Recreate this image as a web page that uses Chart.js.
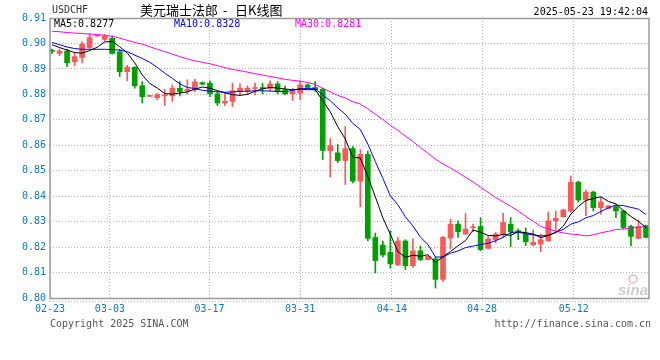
<!DOCTYPE html>
<html>
<head>
<meta charset="utf-8">
<script src="https://cdn.jsdelivr.net/npm/chart.js@4.4.0/dist/chart.umd.min.js"></script>
<style>
  html, body { margin: 0; padding: 0; background: #fff; }
  #wrap { width: 660px; height: 360px; }
</style>
</head>
<body>
<div id="wrap"><canvas id="kChart" width="660" height="360"></canvas></div>
<script>
// USDCHF daily candles, 80 sessions
const opens = [0.8971, 0.8961, 0.8970, 0.8928, 0.8945, 0.8984, 0.9029, 0.9016, 0.9020, 0.8967,
  0.8889, 0.8906, 0.8834, 0.8792, 0.8787, 0.8794, 0.8794, 0.8824, 0.8814, 0.8818,
  0.8846, 0.8844, 0.8802, 0.8766, 0.8772, 0.8811, 0.8814, 0.8823, 0.8825, 0.8824,
  0.8841, 0.8818, 0.8802, 0.8805, 0.8837, 0.8827, 0.8820, 0.8579, 0.8570, 0.8540,
  0.8587, 0.8459, 0.8564, 0.8238, 0.8208, 0.8180, 0.8130, 0.8224, 0.8127, 0.8185,
  0.8151, 0.8154, 0.8073, 0.8236, 0.8290, 0.8251, 0.8276, 0.8281, 0.8195, 0.8229,
  0.8248, 0.8290, 0.8264, 0.8251, 0.8209, 0.8212, 0.8225, 0.8303, 0.8319, 0.8342,
  0.8455, 0.8385, 0.8416, 0.8355, 0.8352, 0.8359, 0.8342, 0.8281, 0.8234, 0.8284];
const highs = [0.8978, 0.8978, 0.8977, 0.8965, 0.9006, 0.9039, 0.9032, 0.9036, 0.9029, 0.8977,
  0.8914, 0.8909, 0.8850, 0.8795, 0.8805, 0.8820, 0.8837, 0.8850, 0.8857, 0.8859,
  0.8849, 0.8853, 0.8811, 0.8807, 0.8844, 0.8841, 0.8834, 0.8844, 0.8844, 0.8853,
  0.8850, 0.8833, 0.8824, 0.8853, 0.8841, 0.8850, 0.8824, 0.8626, 0.8603, 0.8674,
  0.8595, 0.8583, 0.8577, 0.8255, 0.8224, 0.8264, 0.8238, 0.8229, 0.8232, 0.8205,
  0.8166, 0.8161, 0.8242, 0.8310, 0.8303, 0.8332, 0.8290, 0.8316, 0.8242, 0.8258,
  0.8333, 0.8316, 0.8271, 0.8275, 0.8267, 0.8251, 0.8338, 0.8342, 0.8349, 0.8479,
  0.8459, 0.8424, 0.8420, 0.8395, 0.8363, 0.8366, 0.8345, 0.8286, 0.8307, 0.8286];
const lows = [0.8961, 0.8952, 0.8909, 0.8912, 0.8924, 0.8980, 0.9028, 0.9010, 0.8958, 0.8870,
  0.8853, 0.8824, 0.8766, 0.8791, 0.8779, 0.8756, 0.8772, 0.8794, 0.8802, 0.8811,
  0.8837, 0.8791, 0.8756, 0.8756, 0.8752, 0.8798, 0.8802, 0.8798, 0.8802, 0.8815,
  0.8802, 0.8798, 0.8776, 0.8779, 0.8822, 0.8811, 0.8544, 0.8475, 0.8532, 0.8446,
  0.8452, 0.8358, 0.8225, 0.8098, 0.8161, 0.8117, 0.8127, 0.8112, 0.8120, 0.8147,
  0.8149, 0.8039, 0.8065, 0.8193, 0.8238, 0.8251, 0.8260, 0.8186, 0.8193, 0.8216,
  0.8238, 0.8202, 0.8229, 0.8205, 0.8205, 0.8182, 0.8222, 0.8264, 0.8318, 0.8336,
  0.8377, 0.8323, 0.8342, 0.8329, 0.8350, 0.8316, 0.8271, 0.8205, 0.8232, 0.8236];
const closes = [0.8969, 0.8970, 0.8924, 0.8948, 0.8997, 0.9023, 0.9031, 0.9030, 0.8961, 0.8889,
  0.8906, 0.8834, 0.8791, 0.8794, 0.8799, 0.8798, 0.8824, 0.8811, 0.8820, 0.8849,
  0.8840, 0.8802, 0.8766, 0.8773, 0.8814, 0.8824, 0.8824, 0.8825, 0.8823, 0.8841,
  0.8814, 0.8802, 0.8811, 0.8837, 0.8827, 0.8818, 0.8580, 0.8599, 0.8540, 0.8587,
  0.8459, 0.8564, 0.8234, 0.8147, 0.8169, 0.8134, 0.8224, 0.8127, 0.8185, 0.8151,
  0.8164, 0.8073, 0.8238, 0.8290, 0.8260, 0.8271, 0.8278, 0.8190, 0.8232, 0.8251,
  0.8297, 0.8260, 0.8258, 0.8221, 0.8219, 0.8229, 0.8303, 0.8313, 0.8346, 0.8455,
  0.8385, 0.8416, 0.8355, 0.8377, 0.8362, 0.8342, 0.8277, 0.8242, 0.8281, 0.8238];

// moving average lines as drawn
const ma5 = [0.8995, 0.8984, 0.8974, 0.8964, 0.8962, 0.8972, 0.8985, 0.9006, 0.9008, 0.8987,
  0.8963, 0.8924, 0.8876, 0.8843, 0.8825, 0.8803, 0.8801, 0.8805, 0.8810, 0.8820,
  0.8829, 0.8824, 0.8815, 0.8806, 0.8799, 0.8796, 0.8800, 0.8812, 0.8822, 0.8827,
  0.8825, 0.8821, 0.8818, 0.8821, 0.8818, 0.8819, 0.8775, 0.8732, 0.8673, 0.8625,
  0.8553, 0.8550, 0.8477, 0.8398, 0.8315, 0.8250, 0.8182, 0.8160, 0.8168, 0.8164,
  0.8170, 0.8140, 0.8162, 0.8183, 0.8205, 0.8226, 0.8267, 0.8258, 0.8246, 0.8244,
  0.8250, 0.8246, 0.8260, 0.8257, 0.8251, 0.8237, 0.8246, 0.8257, 0.8282, 0.8329,
  0.8360, 0.8383, 0.8391, 0.8398, 0.8379, 0.8370, 0.8343, 0.8320, 0.8301, 0.8277];
const ma10 = [0.9004, 0.8995, 0.8986, 0.8980, 0.8977, 0.8977, 0.8977, 0.8977, 0.8976, 0.8974,
  0.8968, 0.8954, 0.8941, 0.8926, 0.8906, 0.8883, 0.8863, 0.8841, 0.8827, 0.8823,
  0.8816, 0.8813, 0.8810, 0.8808, 0.8810, 0.8812, 0.8812, 0.8814, 0.8814, 0.8813,
  0.8811, 0.8811, 0.8815, 0.8822, 0.8823, 0.8822, 0.8798, 0.8775, 0.8747, 0.8722,
  0.8686, 0.8662, 0.8605, 0.8536, 0.8470, 0.8401, 0.8366, 0.8319, 0.8283, 0.8239,
  0.8210, 0.8161, 0.8161, 0.8176, 0.8185, 0.8198, 0.8204, 0.8210, 0.8215, 0.8225,
  0.8238, 0.8257, 0.8259, 0.8252, 0.8248, 0.8244, 0.8246, 0.8258, 0.8270, 0.8290,
  0.8299, 0.8315, 0.8324, 0.8340, 0.8354, 0.8365, 0.8363, 0.8356, 0.8349, 0.8328];
const ma30 = [0.9048, 0.9046, 0.9043, 0.9041, 0.9039, 0.9037, 0.9035, 0.9032, 0.9028, 0.9021,
  0.9012, 0.9004, 0.8997, 0.8987, 0.8977, 0.8968, 0.8958, 0.8948, 0.8939, 0.8932,
  0.8926, 0.8920, 0.8913, 0.8905, 0.8898, 0.8893, 0.8887, 0.8881, 0.8876, 0.8870,
  0.8865, 0.8859, 0.8855, 0.8852, 0.8846, 0.8839, 0.8824, 0.8810, 0.8796, 0.8786,
  0.8771, 0.8762, 0.8743, 0.8722, 0.8701, 0.8678, 0.8659, 0.8636, 0.8615, 0.8591,
  0.8569, 0.8545, 0.8527, 0.8511, 0.8493, 0.8474, 0.8456, 0.8435, 0.8415, 0.8395,
  0.8378, 0.8360, 0.8342, 0.8321, 0.8301, 0.8281, 0.8272, 0.8262, 0.8256, 0.8251,
  0.8249, 0.8244, 0.8248, 0.8256, 0.8262, 0.8269, 0.8271, 0.8275, 0.8278, 0.8281];

const yTicks = [0.80, 0.81, 0.82, 0.83, 0.84, 0.85, 0.86, 0.87, 0.88, 0.89, 0.90, 0.91];
const xTickLabels = ['02-23', '03-03', '03-17', '03-31', '04-14', '04-28', '05-12'];
const xTickPos = [-0.27, 7.7, 20.95, 33, 45.2, 57.2, 69.4];

const UP = '#f65a5a';
const DOWN = '#00a000';
const AXIS_BLUE = '#0a78c8';
const MONO = '"DejaVu Sans Mono", "Liberation Mono", monospace';

const candleColors = closes.map((c, i) => c >= opens[i] ? UP : DOWN);

// frame, dotted under-rule, header texts and footer
const overlay = {
    id: 'overlay',
    afterDraw(chart) {
        const ctx = chart.ctx;
        const a = chart.chartArea;
        ctx.save();

        ctx.strokeStyle = '#9a9a9a';
        ctx.lineWidth = 1.5;
        ctx.strokeRect(a.left, a.top + 0.5, a.right - a.left, a.bottom - a.top);

        ctx.strokeStyle = '#b0b0b0';
        ctx.lineWidth = 1;
        ctx.setLineDash([1, 2]);
        ctx.beginPath();
        ctx.moveTo(a.left, a.bottom + 3.5);
        ctx.lineTo(a.right + 1, a.bottom + 3.5);
        ctx.stroke();
        ctx.setLineDash([]);

        ctx.textBaseline = 'middle';
        ctx.font = '10px ' + MONO;
        ctx.fillStyle = '#333';
        ctx.textAlign = 'left';
        ctx.fillText('USDCHF', 52, 10);

        ctx.font = '13px "Noto Sans CJK SC"';
        ctx.fillStyle = '#000';
        ctx.fillText('美元瑞士法郎', 140, 10);
        ctx.fillText('-', 223, 10);
        ctx.fillText('日K线图', 235, 10);

        ctx.font = '10px ' + MONO;
        ctx.textAlign = 'right';
        ctx.fillText('2025-05-23 19:42:04', 648, 12);

        ctx.textAlign = 'left';
        ctx.fillStyle = '#000';
        ctx.fillText('MA5:' + ma5[ma5.length - 1].toFixed(4), 54, 24);
        ctx.fillStyle = '#0000ff';
        ctx.fillText('MA10:' + ma10[ma10.length - 1].toFixed(4), 174, 24);
        ctx.fillStyle = '#ff00ff';
        ctx.fillText('MA30:' + ma30[ma30.length - 1].toFixed(4), 295, 24);

        ctx.fillStyle = '#555';
        ctx.fillText('Copyright 2025 SINA.COM', 50, 324);
        ctx.textAlign = 'right';
        ctx.fillText('http://finance.sina.com.cn', 651, 324);

        // faint sina watermark
        ctx.globalAlpha = 0.35;
        ctx.strokeStyle = '#d06060';
        ctx.lineWidth = 2;
        ctx.beginPath();
        ctx.arc(633, 279, 4, 0, Math.PI * 2);
        ctx.stroke();
        ctx.globalAlpha = 0.5;
        ctx.fillStyle = '#999';
        ctx.font = 'italic bold 15px "Liberation Sans", sans-serif';
        ctx.textAlign = 'right';
        ctx.fillText('sina', 648, 291);
        ctx.restore();
    }
};

const ctx = document.getElementById('kChart').getContext('2d');
const kChart = new Chart(ctx, {
    type: 'bar',
    data: {
        datasets: [
            {
                type: 'line',
                label: 'MA5',
                data: ma5.map((v, i) => ({ x: i, y: v })),
                borderColor: '#000000',
                borderWidth: 1,
                pointRadius: 0,
                tension: 0,
                order: 0
            },
            {
                type: 'line',
                label: 'MA10',
                data: ma10.map((v, i) => ({ x: i, y: v })),
                borderColor: '#0000ff',
                borderWidth: 1,
                pointRadius: 0,
                tension: 0,
                order: 0
            },
            {
                type: 'line',
                label: 'MA30',
                data: ma30.map((v, i) => ({ x: i, y: v })),
                borderColor: '#ff00ff',
                borderWidth: 1,
                pointRadius: 0,
                tension: 0,
                order: 0
            },
            {
                label: 'body',
                data: opens.map((o, i) => ({ x: i, y: [o, closes[i]] })),
                backgroundColor: candleColors,
                barThickness: 5,
                minBarLength: 1,
                grouped: false,
                order: 1
            },
            {
                label: 'wick',
                data: lows.map((l, i) => ({ x: i, y: [l, highs[i]] })),
                backgroundColor: candleColors,
                barThickness: 1,
                grouped: false,
                order: 2
            }
        ]
    },
    options: {
        responsive: false,
        devicePixelRatio: 1,
        animation: false,
        events: [],
        layout: { padding: { left: 0, right: 11, top: 18, bottom: 0 } },
        plugins: {
            legend: { display: false },
            tooltip: { enabled: false }
        },
        scales: {
            x: {
                type: 'linear',
                min: -0.27,
                max: 79.4,
                offset: false,
                afterBuildTicks: function(scale) {
                    scale.ticks = xTickPos.map(v => ({ value: v }));
                },
                afterFit: function(scale) { scale.height = 62; },
                grid: { color: '#b0b0b0', lineWidth: 1, drawTicks: false, offset: false },
                border: { display: false, dash: [1, 2] },
                ticks: {
                    autoSkip: false,
                    maxRotation: 0,
                    padding: 5,
                    color: AXIS_BLUE,
                    font: { family: MONO, size: 10 },
                    callback: function(value, index) { return xTickLabels[index]; }
                }
            },
            y: {
                type: 'linear',
                min: 0.80,
                max: 0.91,
                afterBuildTicks: function(scale) {
                    scale.ticks = yTicks.map(v => ({ value: v }));
                },
                afterFit: function(scale) { scale.width = 50; },
                grid: { color: '#b0b0b0', lineWidth: 1, drawTicks: false },
                border: { display: false, dash: [1, 2] },
                ticks: {
                    padding: 4,
                    color: AXIS_BLUE,
                    font: { family: MONO, size: 10 },
                    callback: function(value) { return value.toFixed(2); }
                }
            }
        }
    },
    plugins: [overlay]
});
</script>
</body>
</html>
